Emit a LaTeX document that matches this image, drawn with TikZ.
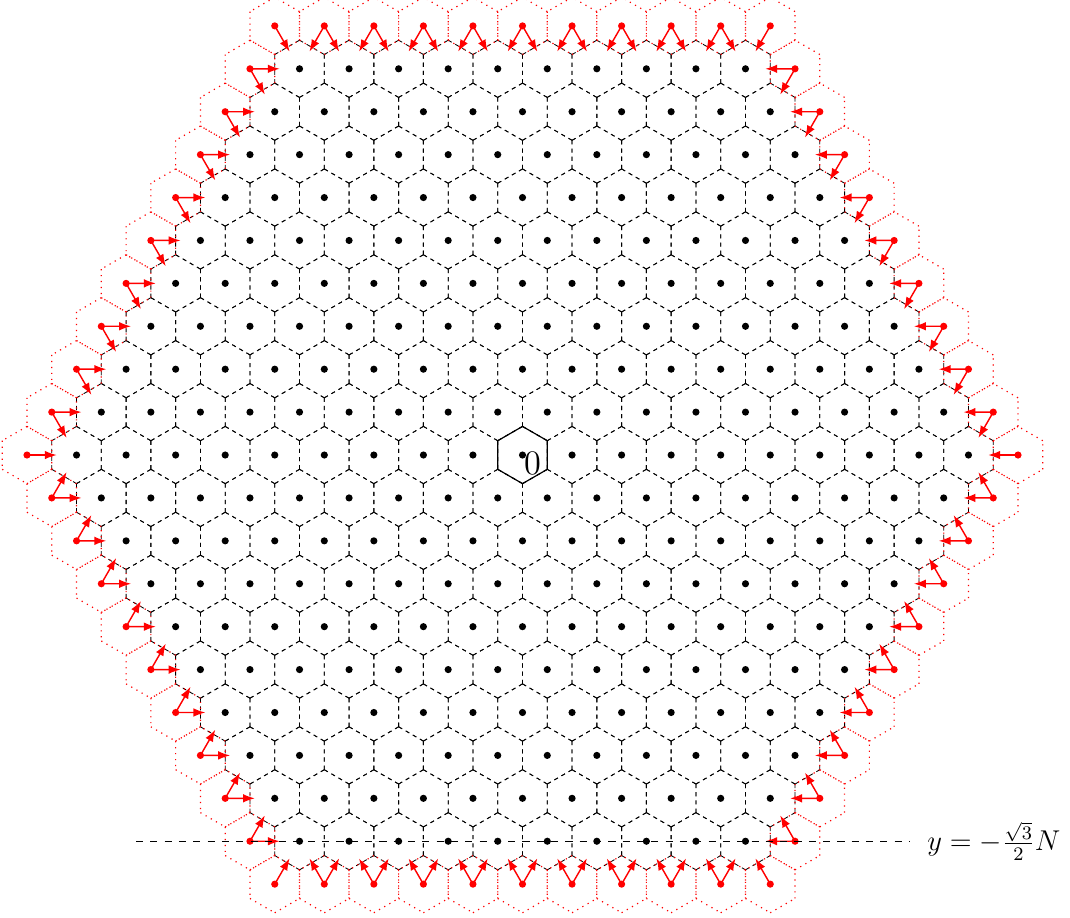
\documentclass[tikz,border=0pt]{standalone}
\usetikzlibrary{calc,arrows.meta}
\definecolor{ghost}{RGB}{255,0,0}
\newcommand{\Nn}{9}
\newcommand{\Rr}{0.57735}
\tikzset{
  cellline/.style={line width=0.35pt,dash pattern=on 1.713pt off 1.713pt},
  centrecell/.style={line width=0.5pt},
  ghostcell/.style={ghost,dotted,line width=0.5pt},
  site/.style={fill=black},
  ghostsite/.style={fill=ghost},
  mapto/.style={ghost,line width=0.6pt,-{Latex[length=5pt,width=3.6pt]}},
}
% cellule de Voronoi (hexagone) autour d'un site, un sous-chemin par arete
\newcommand{\Hexa}[2]{%
  \draw[#2] (#1) +(90:\Rr) -- +(150:\Rr) +(150:\Rr) -- +(210:\Rr)
    +(210:\Rr) -- +(270:\Rr) +(270:\Rr) -- +(330:\Rr)
    +(330:\Rr) -- +(30:\Rr) +(30:\Rr) -- +(90:\Rr);
}
\begin{document}
\begin{tikzpicture}[x=0.73cm,y=0.73cm]
\useasboundingbox (-10.545,-9.324) rectangle (11.049,9.183);

% sites du reseau : (i,j) -> (i+j/2, j*sqrt(3)/2)
\foreach \i in {-10,...,10}{
  \foreach \j in {-10,...,10}{
    \pgfmathtruncatemacro{\dist}{max(abs(\i),abs(\j),abs(\i+\j))}
    \ifnum\dist<11
      \coordinate (s\i_\j) at ({\i+\j/2},{\j*sqrt(3)/2});
    \fi
  }
}

% cellules interieures
\foreach \i in {-10,...,10}{
  \foreach \j in {-10,...,10}{
    \pgfmathtruncatemacro{\dist}{max(abs(\i),abs(\j),abs(\i+\j))}
    \ifnum\dist<10 \Hexa{s\i_\j}{cellline}\fi
  }
}

% cellules fantomes (anneau N+1)
\foreach \i in {-10,...,10}{
  \foreach \j in {-10,...,10}{
    \pgfmathtruncatemacro{\dist}{max(abs(\i),abs(\j),abs(\i+\j))}
    \ifnum\dist=10 \Hexa{s\i_\j}{ghostcell}\fi
  }
}

% cellule de l'origine
\draw[centrecell] (s0_0) +(90:\Rr) -- +(150:\Rr) -- +(210:\Rr) -- +(270:\Rr) -- +(330:\Rr) -- +(30:\Rr) -- cycle;

% sites et fleches
\foreach \i in {-10,...,10}{
  \foreach \j in {-10,...,10}{
    \pgfmathtruncatemacro{\dist}{max(abs(\i),abs(\j),abs(\i+\j))}
    \ifnum\dist<10
      \fill[site] (s\i_\j) circle (1.5pt);
    \fi
    \ifnum\dist=10
      \fill[ghostsite] (s\i_\j) circle (1.5pt);
      \foreach \di/\dj in {1/0,-1/0,0/1,0/-1,1/-1,-1/1}{
        \pgfmathtruncatemacro{\ki}{\i+\di}
        \pgfmathtruncatemacro{\kj}{\j+\dj}
        \pgfmathtruncatemacro{\kd}{max(abs(\ki),abs(\kj),abs(\ki+\kj))}
        \ifnum\kd<10
          \draw[mapto] (s\i_\j) -- ($(s\i_\j)!0.6!(s\ki_\kj)$);
        \fi
      }
    \fi
  }
}

\node[font=\Large,inner sep=0pt] (zero) at ($(s0_0)+(0.2,-0.16)$) {0};

% droite y = -sqrt(3)/2 N
\coordinate (lineL) at (-7.8,{-sqrt(3)/2*\Nn});
\coordinate (lineR) at (7.8,{-sqrt(3)/2*\Nn});
\draw[dashed] (lineL) -- (lineR);
\node[anchor=west,font=\large] (ylab) at ($(lineR)+(0.2,0)$) {$y=-\frac{\sqrt{3}}{2}N$};

\end{tikzpicture}
\end{document}
